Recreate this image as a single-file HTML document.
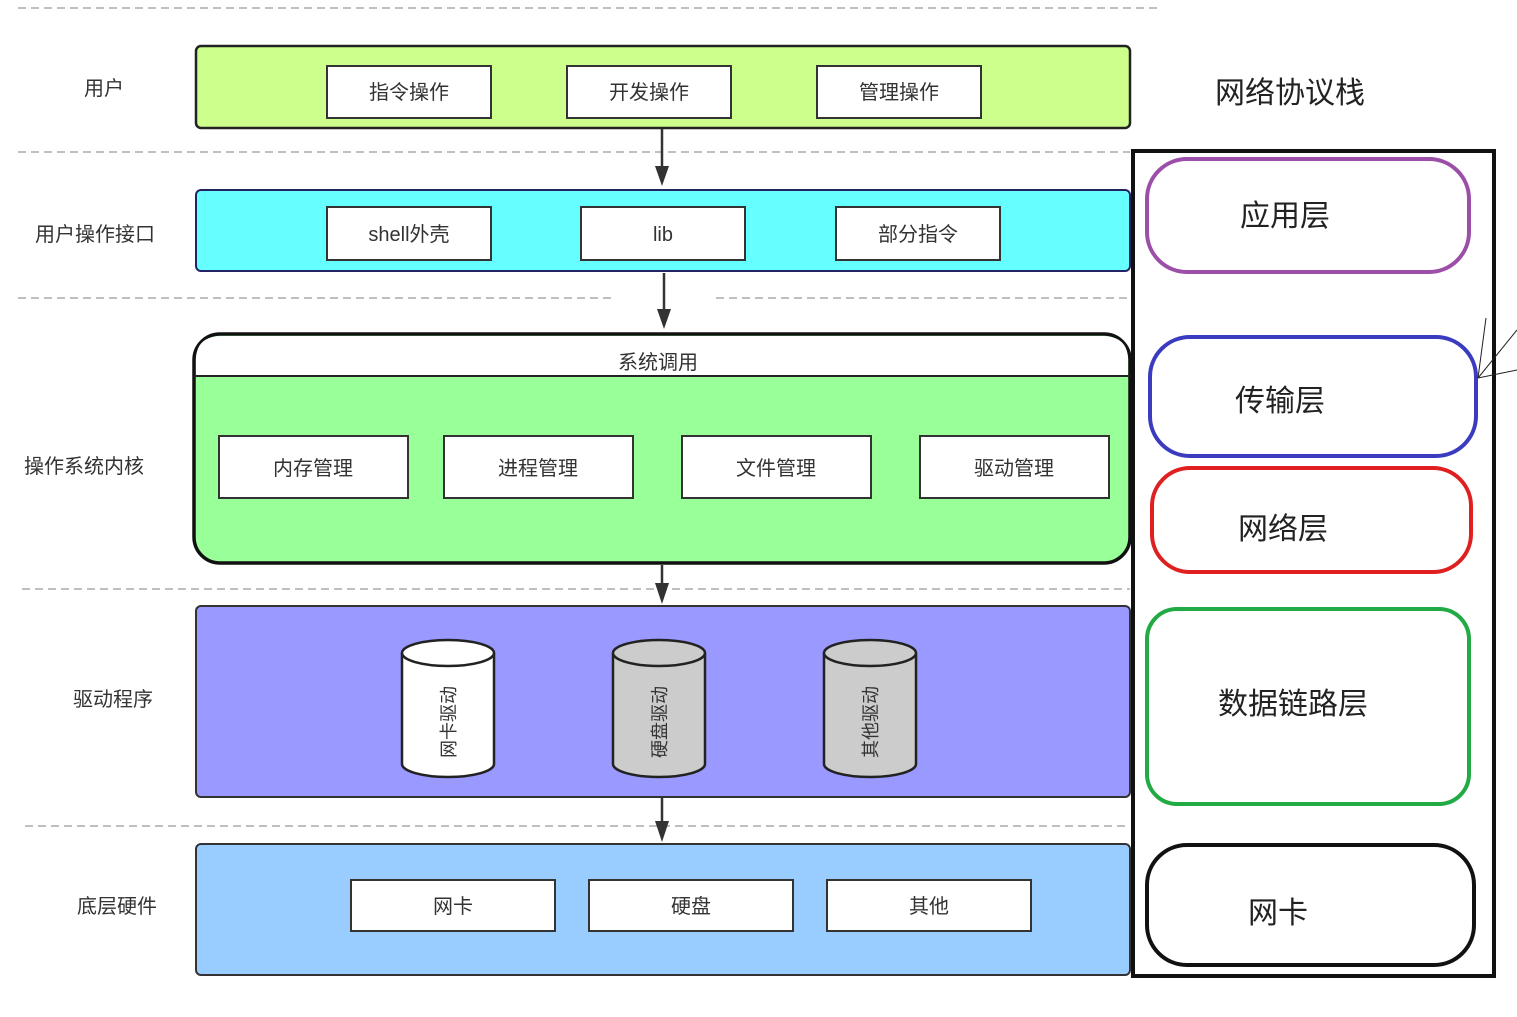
<!DOCTYPE html>
<html><head><meta charset="utf-8"><style>
body{margin:0;background:#fff;}
svg text{font-family:"Liberation Sans","Noto Sans CJK SC",sans-serif;fill:#333;}
</style></head><body>
<svg width="1517" height="1012" viewBox="0 0 1517 1012" xmlns="http://www.w3.org/2000/svg">
<g stroke="#aaa" stroke-width="1.5" stroke-dasharray="8,5" fill="none">
<line x1="18" y1="8" x2="1162" y2="8"/>
<line x1="18" y1="152" x2="1130" y2="152"/>
<line x1="18" y1="298" x2="612" y2="298"/>
<line x1="716" y1="298" x2="1130" y2="298"/>
<line x1="22" y1="589" x2="1130" y2="589"/>
<line x1="25" y1="826" x2="1130" y2="826"/>
</g>
<g font-size="20" text-anchor="middle">
<text x="104" y="95">用户</text>
<text x="95" y="241">用户操作接口</text>
<text x="84" y="473">操作系统内核</text>
<text x="113" y="706">驱动程序</text>
<text x="117" y="913">底层硬件</text>
</g>
<rect x="196" y="46" width="934" height="82" rx="5" fill="#ccff8c" stroke="#222" stroke-width="2.5"/>
<g fill="#fff" stroke="#333" stroke-width="2">
<rect x="327" y="66" width="164" height="52"/><rect x="567" y="66" width="164" height="52"/><rect x="817" y="66" width="164" height="52"/>
</g>
<g font-size="20" text-anchor="middle">
<text x="409" y="99">指令操作</text><text x="649" y="99">开发操作</text><text x="899" y="99">管理操作</text>
</g>
<rect x="196" y="190" width="934" height="81" rx="5" fill="#66ffff" stroke="#226" stroke-width="2"/>
<g fill="#fff" stroke="#333" stroke-width="2">
<rect x="327" y="207" width="164" height="53"/><rect x="581" y="207" width="164" height="53"/><rect x="836" y="207" width="164" height="53"/>
</g>
<g font-size="20" text-anchor="middle">
<text x="409" y="241">shell外壳</text><text x="663" y="241">lib</text><text x="918" y="241">部分指令</text>
</g>
<rect x="194" y="334" width="936" height="229" rx="26" fill="#99ff99" stroke="#111" stroke-width="3.5"/>
<path d="M196,376 L196,360 Q196,336 222,336 L1102,336 Q1128,336 1128,360 L1128,376 Z" fill="#fff"/>
<line x1="194" y1="376" x2="1130" y2="376" stroke="#222" stroke-width="2"/>
<text x="658" y="369" font-size="20" text-anchor="middle">系统调用</text>
<g fill="#fff" stroke="#333" stroke-width="2">
<rect x="219" y="436" width="189" height="62"/><rect x="444" y="436" width="189" height="62"/><rect x="682" y="436" width="189" height="62"/><rect x="920" y="436" width="189" height="62"/>
</g>
<g font-size="20" text-anchor="middle">
<text x="313" y="475">内存管理</text><text x="538" y="475">进程管理</text><text x="776" y="475">文件管理</text><text x="1014" y="475">驱动管理</text>
</g>
<rect x="196" y="606" width="934" height="191" rx="5" fill="#9999ff" stroke="#333" stroke-width="2"/>
<g stroke="#222" stroke-width="2.5">
<path d="M402,653 L402,764 A46,13 0 0 0 494,764 L494,653" fill="#fff"/>
<ellipse cx="448" cy="653" rx="46" ry="13" fill="#fff"/>
<path d="M613,653 L613,764 A46,13 0 0 0 705,764 L705,653" fill="#ccc"/>
<ellipse cx="659" cy="653" rx="46" ry="13" fill="#ccc"/>
<path d="M824,653 L824,764 A46,13 0 0 0 916,764 L916,653" fill="#ccc"/>
<ellipse cx="870" cy="653" rx="46" ry="13" fill="#ccc"/>
</g>
<g font-size="18" text-anchor="middle">
<text transform="translate(455,722) rotate(-90)">网卡驱动</text>
<text transform="translate(666,722) rotate(-90)">硬盘驱动</text>
<text transform="translate(877,722) rotate(-90)">其他驱动</text>
</g>
<rect x="196" y="844" width="934" height="131" rx="5" fill="#99ccff" stroke="#333" stroke-width="2"/>
<g fill="#fff" stroke="#333" stroke-width="2">
<rect x="351" y="880" width="204" height="51"/><rect x="589" y="880" width="204" height="51"/><rect x="827" y="880" width="204" height="51"/>
</g>
<g font-size="20" text-anchor="middle">
<text x="453" y="913">网卡</text><text x="691" y="913">硬盘</text><text x="929" y="913">其他</text>
</g>
<g stroke="#333" stroke-width="2.5">
<line x1="662" y1="129" x2="662" y2="168"/>
<line x1="664" y1="273" x2="664" y2="311"/>
<line x1="662" y1="565" x2="662" y2="585"/>
<line x1="662" y1="798" x2="662" y2="823"/>
</g>
<g fill="#333">
<path d="M655,166 L669,166 L662,186 Z"/>
<path d="M657,309 L671,309 L664,329 Z"/>
<path d="M655,583 L669,583 L662,604 Z"/>
<path d="M655,821 L669,821 L662,842 Z"/>
</g>
<text x="1290" y="103" font-size="30" text-anchor="middle" style="fill:#222">网络协议栈</text>
<rect x="1133" y="151" width="361" height="825" fill="none" stroke="#111" stroke-width="4"/>
<rect x="1147" y="159" width="322" height="113" rx="40" fill="none" stroke="#9b4fa8" stroke-width="4"/>
<rect x="1150" y="337" width="326" height="119" rx="40" fill="none" stroke="#3b3bc0" stroke-width="4"/>
<rect x="1152" y="468" width="319" height="104" rx="38" fill="none" stroke="#e02020" stroke-width="4"/>
<rect x="1147" y="609" width="322" height="195" rx="30" fill="none" stroke="#22aa44" stroke-width="4"/>
<rect x="1147" y="845" width="327" height="120" rx="40" fill="none" stroke="#111" stroke-width="4"/>
<g stroke="#222" stroke-width="1" fill="none">
<line x1="1486" y1="318" x2="1478" y2="378"/>
<line x1="1517" y1="330" x2="1478" y2="378"/>
<line x1="1517" y1="370" x2="1478" y2="378"/>
</g>
<g font-size="30" text-anchor="middle">
<text x="1285" y="226" style="fill:#222">应用层</text>
<text x="1280" y="411" style="fill:#222">传输层</text>
<text x="1283" y="539" style="fill:#222">网络层</text>
<text x="1293" y="714" style="fill:#222">数据链路层</text>
<text x="1278" y="923" style="fill:#222">网卡</text>
</g>
</svg>
</body></html>
